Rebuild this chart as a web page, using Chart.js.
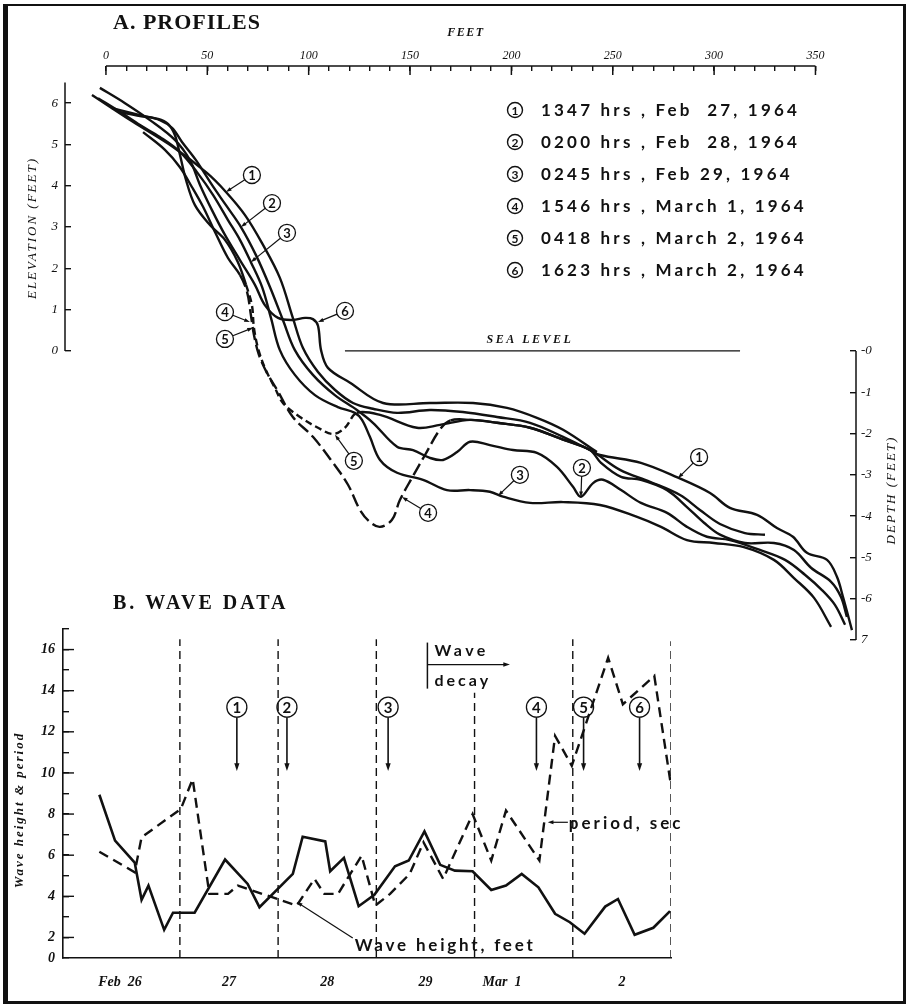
<!DOCTYPE html>
<html>
<head>
<meta charset="utf-8">
<title>Beach profiles and wave data, Feb 26 - Mar 2, 1964</title>
<script src="https://cdn.jsdelivr.net/npm/chart.js@4.4.1/dist/chart.umd.min.js"></script>
<style>
  html, body { margin: 0; padding: 0; background: #fff; }
  #page { position: relative; width: 908px; height: 1006px; overflow: hidden; background: #fff; }
  #frame { position: absolute; left: 3px; top: 4px; width: 903px; height: 1000px; box-sizing: border-box;
           border: solid #111; border-width: 2px 3px 3px 5px; }
  canvas { position: absolute; left: 0; }
  #profiles { top: 0; }
  #waves { top: 590px; }
</style>
</head>
<body>
<div id="page">
  <div id="frame"></div>
  <canvas id="profiles" width="908" height="670"></canvas>
  <canvas id="waves" width="908" height="416"></canvas>
</div>
<script>
const ink = '#111';
const serif = '"Liberation Serif", "DejaVu Serif", serif';
const sans = 'Lato, "DejaVu Sans", sans-serif';

/* ---------- A. PROFILES : [distance (feet), elevation (feet)] ---------- */
const profile1 = [[-6.9,6.20],[13.3,5.55],[33.1,4.94],[49.8,4.31],[59.2,3.85],[68.6,3.29],[77.0,2.61],[85.8,1.77],
  [92.2,0.80],[97.2,0.07],[104.6,-0.51],[112.9,-0.94],[121.9,-1.26],[131.7,-1.40],[143.6,-1.50],[159.8,-1.43],
  [176.1,-1.48],[192.9,-1.60],[209.2,-1.74],[225.5,-2.08],[238.8,-2.40],[243.7,-2.52],[263.9,-2.71],[282.2,-3.07],
  [298.0,-3.44],[307.8,-3.80],[321.2,-3.97],[331.0,-4.29],[338.9,-4.50],[345.8,-4.89],[355.7,-5.06],[360.6,-5.47],
  [363.6,-5.96],[368.0,-6.76]];
const profile2 = [[3.0,5.88],[16.8,5.71],[26.6,5.59],[32.6,5.40],[37.5,5.06],[44.4,4.62],[52.3,4.02],[59.2,3.53],
  [66.6,3.00],[74.0,2.32],[80.9,1.55],[87.3,0.75],[93.2,0.02],[102.1,-0.58],[112.9,-1.07],[123.8,-1.43],[131.7,-1.74],
  [143.6,-2.32],[151.5,-2.40],[159.8,-2.59],[166.3,-2.64],[173.2,-2.45],[179.6,-2.20],[189.4,-2.28],[200.8,-2.40],
  [212.6,-2.47],[222.5,-2.81],[230.4,-3.29],[234.3,-3.53],[240.3,-3.20],[245.2,-3.12],[254.1,-3.37],[263.9,-3.68],
  [276.8,-3.92],[286.6,-4.26],[296.5,-4.50],[307.8,-4.58],[322.6,-4.82],[335.0,-5.06],[344.8,-5.42],[353.2,-5.79],
  [359.6,-6.15],[364.6,-6.63]];
const profile3 = [[-3.9,6.12],[6.9,5.79],[16.8,5.47],[26.6,5.18],[36.5,4.82],[44.9,4.33],[52.8,3.78],[60.2,3.17],
  [66.1,2.69],[71.5,2.15],[77.0,1.55],[81.4,0.80],[85.8,0.02],[93.2,-0.58],[103.1,-1.07],[114.4,-1.36],[122.8,-1.50],
  [126.3,-1.67],[130.2,-2.08],[135.2,-2.64],[143.6,-2.95],[156.4,-3.12],[168.2,-3.37],[179.6,-3.37],[189.4,-3.41],
  [195.9,-3.53],[209.2,-3.68],[225.5,-3.66],[243.7,-3.73],[262.0,-4.02],[273.8,-4.26],[286.6,-4.58],[299.9,-4.65],
  [314.7,-4.75],[329.5,-5.06],[339.4,-5.50],[349.3,-5.98],[357.7,-6.68]];
const profile4 = [[18.3,5.30],[29.1,4.87],[36.5,4.45],[42.4,3.97],[47.9,3.49],[53.8,2.88],[60.2,2.25],[66.1,1.84],
  [69.6,1.43],[71.5,0.87],[73.0,0.39],[75.5,-0.10],[79.4,-0.53],[84.4,-0.94],[92.2,-1.60],[102.1,-2.08],[112.0,-2.71],
  [119.4,-3.24],[125.3,-3.85],[130.2,-4.14],[135.2,-4.26],[141.1,-4.09],[145.0,-3.61],[151.0,-3.07],[157.4,-2.52],
  [164.8,-1.90],[170.0,-1.68],[179.6,-1.67],[192.9,-1.74],[209.2,-1.86],[225.5,-2.15],[238.8,-2.40],[244.2,-2.71],
  [254.1,-3.05],[263.9,-3.12],[276.8,-3.37],[286.6,-3.78],[295.0,-4.16],[302.9,-4.45],[315.2,-4.65],[329.5,-4.65],
  [339.4,-4.82],[347.8,-5.25],[357.7,-5.59],[362.6,-5.96],[365.5,-6.44]];
const profile5 = [[5.9,5.79],[16.8,5.69],[25.7,5.62],[30.6,5.50],[34.0,5.23],[36.5,4.75],[39.5,4.14],[43.9,3.53],
  [51.3,3.05],[58.7,2.69],[65.1,2.15],[69.1,1.60],[72.0,1.11],[73.0,0.56],[75.0,0.07],[78.4,-0.41],[83.4,-0.90],
  [87.3,-1.26],[95.7,-1.60],[104.6,-1.86],[112.0,-2.01],[117.9,-1.86],[123.8,-1.50],[135.2,-1.55],[153.4,-1.86],
  [164.8,-1.79],[179.6,-1.67],[192.9,-1.74],[209.2,-1.86],[225.5,-2.15],[238.8,-2.40],[253.6,-2.88],[268.4,-3.17],
  [283.2,-3.49],[293.0,-3.85],[302.9,-4.19],[315.2,-4.41],[325.1,-4.45]];
const profile6 = [[-3.0,6.37],[9.4,6.00],[21.7,5.59],[34.0,5.11],[41.4,4.62],[46.4,4.02],[52.3,3.41],[58.7,2.81],
  [66.1,2.20],[73.5,1.60],[78.4,1.11],[84.9,0.80],[92.2,0.75],[98.2,0.80],[102.1,0.77],[104.6,0.61],[106.1,0.02],
  [109.5,-0.41],[120.4,-0.77],[136.7,-1.26],[159.8,-1.26],[181.1,-1.26],[197.8,-1.38],[212.6,-1.62],[225.5,-1.91],
  [242.2,-2.45]];
const profiles = [profile1, profile2, profile3, profile4, profile5, profile6];
const profileDash = [null, null, null, [13, 5], [7, 4], null];
const dashedFrom = [0, 0, 0, 62, 66, 0];      // feet: stretch drawn dashed
const dashedUntil = [0, 0, 0, 170, 124, 0];
const seaLevel = [[117.9, 0], [312.8, 0]];

const feetTicks = [];
for (let v = 0; v <= 350; v += 10) feetTicks.push(v);
const elevTicks = [0, 1, 2, 3, 4, 5, 6];
const depthTicks = [0, -1, -2, -3, -4, -5, -6, -7];

const legendRows = ['1347 hrs , Feb  27, 1964', '0200 hrs , Feb  28, 1964', '0245 hrs , Feb 29, 1964',
  '1546 hrs , March 1, 1964', '0418 hrs , March 2, 1964', '1623 hrs , March 2, 1964'];
const tagNums = ['1', '2', '3', '4', '5', '6', '5', '4', '3', '2', '1'];
const tagAt = [[72.0,4.26],[81.9,3.58],[89.3,2.86],[58.7,0.94],[58.7,0.29],[117.9,0.97],
  [122.3,-2.66],[158.9,-3.92],[204.2,-3.00],[234.8,-2.83],[292.6,-2.57]];
const tagTip = [[59.2,3.85],[66.6,3.00],[71.5,2.15],[71.0,0.70],[72.5,0.56],[104.6,0.70],
  [113.0,-2.03],[146.0,-3.54],[193.4,-3.51],[234.3,-3.54],[282.2,-3.08]];

/* ---------- B. WAVE DATA : [days after Feb 26 0000, value] ---------- */
const waveHeight = [[0.18,8.94],[0.34,6.71],[0.54,5.64],[0.61,3.83],[0.68,4.52],[0.84,2.37],[0.93,3.20],[1.15,3.20],
  [1.46,5.79],[1.69,4.60],[1.81,3.47],[2.15,5.09],[2.25,6.90],[2.48,6.67],[2.53,5.22],[2.67,5.87],[2.82,3.52],
  [2.98,4.07],[3.19,5.46],[3.33,5.74],[3.49,7.16],[3.65,5.53],[3.80,5.25],[3.98,5.22],[4.17,4.31],[4.32,4.52],
  [4.48,5.09],[4.65,4.44],[4.82,3.15],[4.97,2.74],[5.12,2.18],[5.33,3.50],[5.46,3.87],[5.63,2.13],[5.82,2.47],
  [5.99,3.28]];
const wavePeriod = [[0.18,6.17],[0.54,5.17],[0.61,6.87],[1.01,8.25],[1.13,9.70],[1.30,4.12],[1.49,4.12],[1.59,4.52],
  [2.19,3.55],[2.37,4.85],[2.47,4.12],[2.61,4.12],[2.85,5.98],[2.99,3.55],[3.14,4.12],[3.34,5.09],[3.48,6.63],
  [3.68,4.85],[3.98,8.00],[4.17,5.74],[4.32,8.17],[4.66,5.74],[4.82,11.80],[4.99,10.35],[5.36,15.60],[5.51,13.34],
  [5.83,14.72],[6.00,9.38]];
const dayLines = [1, 2, 3, 4, 5, 6];
const dayLineTop = [16.5, 16.5, 16.5, 13.9, 16.5, 16.4];
const dayLabels = ['Feb  26', '27', '28', '29', 'Mar  1', '2'];
const dayLabelAt = [0.39, 1.5, 2.5, 3.5, 4.28, 5.5];
const waveTicks = [];
for (let v = 1; v <= 17; v++) waveTicks.push(v);
const surveyDay = [1.58, 2.09, 3.12, 4.63, 5.11, 5.68];

/* ---------- drawing helpers ---------- */
function drawArrow(ctx, x1, y1, x2, y2, head) {
  const a = Math.atan2(y2 - y1, x2 - x1);
  ctx.beginPath();
  ctx.moveTo(x1, y1);
  ctx.lineTo(x2 - Math.cos(a) * head * 0.6, y2 - Math.sin(a) * head * 0.6);
  ctx.stroke();
  ctx.beginPath();
  ctx.moveTo(x2, y2);
  ctx.lineTo(x2 - head * Math.cos(a - 0.33), y2 - head * Math.sin(a - 0.33));
  ctx.lineTo(x2 - head * Math.cos(a + 0.33), y2 - head * Math.sin(a + 0.33));
  ctx.closePath();
  ctx.fill();
}
function drawTag(ctx, cx, cy, r, digit, size) {
  ctx.beginPath();
  ctx.arc(cx, cy, r, 0, Math.PI * 2);
  ctx.stroke();
  ctx.font = 'bold ' + size + 'px ' + sans;
  ctx.letterSpacing = '0px';
  ctx.textAlign = 'center';
  ctx.textBaseline = 'middle';
  ctx.fillText(digit, cx, cy + 1);
}
function label(ctx, s, x, y, font, spacing, align) {
  ctx.font = font;
  ctx.letterSpacing = spacing || '0px';
  ctx.textAlign = align || 'left';
  ctx.textBaseline = 'middle';
  ctx.fillText(s, x, y);
}
function vlabel(ctx, s, cx, cy, font, spacing) {
  ctx.save();
  ctx.translate(cx, cy);
  ctx.rotate(-Math.PI / 2);
  label(ctx, s, 0, 0, font, spacing, 'center');
  ctx.restore();
}
function seg(ctx, x1, y1, x2, y2) {
  ctx.beginPath(); ctx.moveTo(x1, y1); ctx.lineTo(x2, y2); ctx.stroke();
}

/* ---------- A. profiles decorations ---------- */
const profileDecor = {
  id: 'profileDecor',
  afterDraw(chart) {
    const { ctx, chartArea: area, scales: { x, y } } = chart;
    ctx.save();
    ctx.strokeStyle = ink;
    ctx.fillStyle = ink;
    ctx.lineWidth = 1.5;
    // partial axis lines
    seg(ctx, x.getPixelForValue(0), area.top, x.getPixelForValue(350), area.top);
    feetTicks.filter(v => v % 50 === 0).forEach(v => {
      const px = x.getPixelForValue(v);
      seg(ctx, px, area.top, px, area.top + 9);
    });
    seg(ctx, area.left, y.getPixelForValue(6.5), area.left, y.getPixelForValue(0));
    seg(ctx, area.right, y.getPixelForValue(0), area.right, y.getPixelForValue(-7));

    label(ctx, 'A. PROFILES', 113, 23, 'bold 22px ' + serif, '1px');
    label(ctx, 'FEET', 466, 33, 'italic bold 12px ' + serif, '1.5px', 'center');
    vlabel(ctx, 'ELEVATION (FEET)', 33, 228, 'italic 13px ' + serif, '2px');
    vlabel(ctx, 'DEPTH (FEET)', 892, 490, 'italic 13px ' + serif, '2px');
    label(ctx, 'SEA LEVEL', 530, 340, 'italic bold 12px ' + serif, '2.5px', 'center');

    // legend of survey times
    ctx.lineWidth = 1.4;
    legendRows.forEach((row, i) => {
      const cy = 110 + i * 32;
      drawTag(ctx, 515, cy, 7.5, String(i + 1), 12);
      label(ctx, row, 541, cy + 1, 'bold 17px ' + sans, '3.2px');
    });

    // numbered pointers on the profiles
    tagNums.forEach((n, i) => {
      const cx = x.getPixelForValue(tagAt[i][0]), cy = y.getPixelForValue(tagAt[i][1]);
      const tx = x.getPixelForValue(tagTip[i][0]), ty = y.getPixelForValue(tagTip[i][1]);
      const a = Math.atan2(ty - cy, tx - cx);
      ctx.lineWidth = 1.3;
      drawTag(ctx, cx, cy, 8.5, n, 13);
      ctx.lineWidth = 1.2;
      drawArrow(ctx, cx + 8.5 * Math.cos(a), cy + 8.5 * Math.sin(a), tx, ty, 6);
    });
    ctx.restore();
  }
};

new Chart(document.getElementById('profiles'), {
  type: 'line',
  data: {
    datasets: profiles.map((p, i) => ({
      label: 'Profile ' + (i + 1),
      data: p.map(([fx, fy]) => ({ x: fx, y: fy })),
      borderColor: ink,
      borderWidth: 2.4,
      pointRadius: 0,
      tension: 0.35,
      fill: false,
      segment: {
        borderDash: c => (profileDash[i] && c.p0.parsed.x >= dashedFrom[i] && c.p1.parsed.x <= dashedUntil[i])
          ? profileDash[i] : undefined
      }
    })).concat([{
      label: 'Sea level',
      data: seaLevel.map(([fx, fy]) => ({ x: fx, y: fy })),
      borderColor: ink,
      borderWidth: 1.3,
      pointRadius: 0
    }])
  },
  options: {
    responsive: false,
    animation: false,
    devicePixelRatio: 1,
    layout: { padding: { top: 0, left: 0, right: 0, bottom: 30 } },
    plugins: { legend: { display: false }, tooltip: { enabled: false } },
    scales: {
      x: {
        type: 'linear', position: 'top', min: -20.2, max: 370,
        afterBuildTicks: s => { s.ticks = feetTicks.map(v => ({ value: v })); },
        afterFit: s => { s.height = 66; },
        border: { display: false },
        grid: { drawOnChartArea: false, tickLength: -5, color: ink, lineWidth: 1.4 },
        ticks: {
          autoSkip: false, maxRotation: 0, padding: 8, color: ink,
          font: { family: serif, style: 'italic', size: 12 },
          callback: v => (v % 50 === 0 ? String(v) : '')
        }
      },
      y: {
        type: 'linear', position: 'left', min: -7, max: 6.9,
        afterBuildTicks: s => { s.ticks = elevTicks.map(v => ({ value: v })); },
        afterFit: s => { s.width = 65; },
        border: { display: false },
        grid: { drawOnChartArea: false, tickLength: -6, color: ink, lineWidth: 1.4 },
        ticks: { padding: 13, color: ink, font: { family: serif, style: 'italic', size: 13 } }
      },
      y2: {
        type: 'linear', position: 'right', min: -7, max: 6.9,
        afterBuildTicks: s => { s.ticks = depthTicks.map(v => ({ value: v })); },
        afterFit: s => { s.width = 52; },
        border: { display: false },
        grid: { drawOnChartArea: false, tickLength: -6, color: ink, lineWidth: 1.4 },
        ticks: {
          padding: 11, color: ink, font: { family: serif, style: 'italic', size: 13 },
          callback: v => (v === 0 ? '-0' : v === -7 ? '7' : String(v))
        }
      }
    }
  },
  plugins: [profileDecor]
});

/* ---------- B. wave data decorations ---------- */
const waveDecor = {
  id: 'waveDecor',
  afterDraw(chart) {
    const { ctx, chartArea: area, scales: { x, y } } = chart;
    ctx.save();
    ctx.strokeStyle = ink;
    ctx.fillStyle = ink;
    ctx.lineWidth = 1.4;
    // longer ticks on even values
    waveTicks.filter(v => v % 2 === 0).forEach(v => {
      const py = y.getPixelForValue(v);
      seg(ctx, area.left, py, area.left + 11, py);
    });

    label(ctx, 'B. WAVE DATA', 113, 14, 'bold 20px ' + serif, '3px');
    vlabel(ctx, 'Wave height & period', 20, 220, 'italic bold 13px ' + serif, '2px');

    // survey times (profiles 1-6)
    surveyDay.forEach((d, i) => {
      const cx = x.getPixelForValue(d), cy = y.getPixelForValue(13.2);
      ctx.lineWidth = 1.3;
      drawTag(ctx, cx, cy, 10, String(i + 1), 15);
      ctx.lineWidth = 1.6;
      drawArrow(ctx, cx, cy + 10, cx, y.getPixelForValue(10.1), 8);
    });

    // wave decay marker
    const dx = x.getPixelForValue(3.52);
    ctx.lineWidth = 1.5;
    seg(ctx, dx, y.getPixelForValue(16.34), dx, y.getPixelForValue(14.1));
    ctx.lineWidth = 1.3;
    drawArrow(ctx, dx, y.getPixelForValue(15.27), x.getPixelForValue(4.36), y.getPixelForValue(15.27), 7);
    label(ctx, 'Wave', dx + 7, y.getPixelForValue(15.92), 'bold 16px ' + sans, '3.5px');
    label(ctx, 'decay', dx + 7, y.getPixelForValue(14.5), 'bold 16px ' + sans, '3px');

    // series labels
    ctx.lineWidth = 1.2;
    drawArrow(ctx, x.getPixelForValue(4.95), y.getPixelForValue(7.6), x.getPixelForValue(4.745), y.getPixelForValue(7.6), 6);
    label(ctx, 'period, sec', x.getPixelForValue(4.96), y.getPixelForValue(7.55), 'bold 17px ' + sans, '3px');
    drawArrow(ctx, x.getPixelForValue(2.76), y.getPixelForValue(1.97), x.getPixelForValue(2.19), y.getPixelForValue(3.72), 6);
    label(ctx, 'Wave height, feet', x.getPixelForValue(2.78), y.getPixelForValue(1.63), 'bold 17px ' + sans, '2.8px');
    ctx.restore();
  }
};

new Chart(document.getElementById('waves'), {
  type: 'line',
  data: {
    datasets: [
      {
        label: 'Wave height, feet',
        data: waveHeight.map(([d, v]) => ({ x: d, y: v })),
        borderColor: ink, borderWidth: 2.6, pointRadius: 0, tension: 0
      },
      {
        label: 'period, sec',
        data: wavePeriod.map(([d, v]) => ({ x: d, y: v })),
        borderColor: ink, borderWidth: 2.4, borderDash: [10, 6], pointRadius: 0, tension: 0
      }
    ].concat(dayLines.map((d, i) => ({
      label: 'day ' + d,
      data: [{ x: d, y: 1 }, { x: d, y: dayLineTop[i] }],
      borderColor: ink, borderWidth: 1.4, borderDash: [8, 5], pointRadius: 0
    })))
  },
  options: {
    responsive: false,
    animation: false,
    devicePixelRatio: 1,
    layout: { padding: { top: 39, left: 0, right: 237, bottom: 0 } },
    plugins: { legend: { display: false }, tooltip: { enabled: false } },
    scales: {
      x: {
        type: 'linear', position: 'bottom', min: -0.19, max: 6.0,
        afterBuildTicks: s => { s.ticks = dayLabelAt.map(v => ({ value: v })); },
        afterFit: s => { s.height = 48; },
        border: { display: true, color: ink, width: 1.6 },
        grid: { display: false, drawTicks: false },
        ticks: {
          autoSkip: false, maxRotation: 0, padding: 16, color: ink,
          font: { family: serif, style: 'italic', weight: 'bold', size: 14 },
          callback: (v, i) => dayLabels[i]
        }
      },
      y: {
        type: 'linear', position: 'left', min: 1, max: 17,
        afterBuildTicks: s => { s.ticks = waveTicks.map(v => ({ value: v })); },
        afterFit: s => { s.width = 63; },
        border: { display: true, color: ink, width: 1.6 },
        grid: { drawOnChartArea: false, tickLength: -6, color: ink, lineWidth: 1.4 },
        ticks: {
          padding: 14, color: ink,
          font: { family: serif, style: 'italic', weight: 'bold', size: 14 },
          callback: v => (v === 1 ? '0' : v % 2 === 0 ? String(v) : '')
        }
      }
    }
  },
  plugins: [waveDecor]
});
</script>
</body>
</html>
